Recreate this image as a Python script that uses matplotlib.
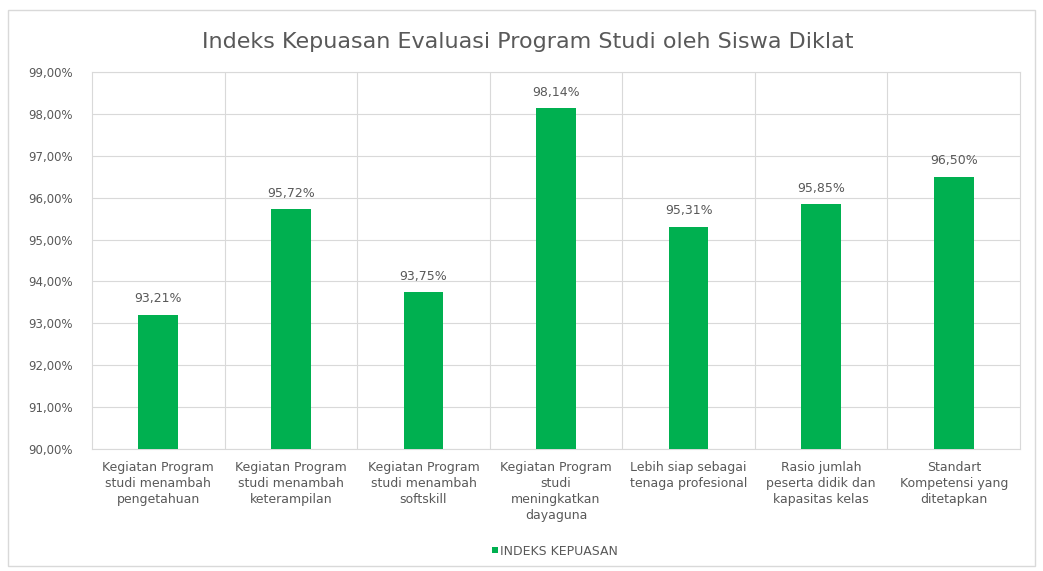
import matplotlib
matplotlib.use('Agg')
import matplotlib.pyplot as plt
from matplotlib.ticker import FuncFormatter, MultipleLocator
from matplotlib.patches import Rectangle

categories = [
    "Kegiatan Program\nstudi menambah\npengetahuan",
    "Kegiatan Program\nstudi menambah\nketerampilan",
    "Kegiatan Program\nstudi menambah\nsoftskill",
    "Kegiatan Program\nstudi\nmeningkatkan\ndayaguna",
    "Lebih siap sebagai\ntenaga profesional",
    "Rasio jumlah\npeserta didik dan\nkapasitas kelas",
    "Standart\nKompetensi yang\nditetapkan",
]
values = [93.21, 95.72, 93.75, 98.14, 95.31, 95.85, 96.50]
series_name = "INDEKS KEPUASAN"
title = "Indeks Kepuasan Evaluasi Program Studi oleh Siswa Diklat"

green = "#00B050"
grey_text = "#595959"
grid_col = "#D9D9D9"


def pct(v, pos=None):
    return f"{v:.2f}%".replace(".", ",")


fig = plt.figure(figsize=(10.43, 5.71), dpi=100)
ax = fig.add_axes([0.0882, 0.2137, 0.8898, 0.6603])

x = range(len(categories))
bars = ax.bar(x, values, width=0.3, color=green, zorder=3, label=series_name)
for xi, v in zip(x, values):
    ax.text(xi, v + 0.22, pct(v), ha='center', va='bottom', fontsize=9, color=grey_text)

ax.set_ylim(90, 99)
ax.set_xlim(-0.5, len(categories) - 0.5)
ax.yaxis.set_major_locator(MultipleLocator(1))
ax.yaxis.set_major_formatter(FuncFormatter(pct))
ax.set_xticks(list(x))
ax.set_xticklabels(categories, fontsize=9, color=grey_text, linespacing=1.3)
ax.tick_params(axis='y', labelsize=8.5, labelcolor=grey_text, length=0, pad=14)
ax.tick_params(axis='x', length=0, pad=9)

ax.grid(axis='y', color=grid_col, linewidth=0.8, zorder=0)
ax.set_xticks([i + 0.5 for i in range(len(categories) - 1)], minor=True)
ax.tick_params(axis='x', which='minor', length=0)
ax.grid(axis='x', which='minor', color=grid_col, linewidth=0.8, zorder=0)
for s in ['top', 'right', 'left', 'bottom']:
    ax.spines[s].set_color(grid_col)
    ax.spines[s].set_linewidth(0.8)

fig.text(0.506, 0.926, title, ha='center', va='center', fontsize=16, color=grey_text)

fig.legend(handles=[bars], labels=[series_name], loc='center',
           bbox_to_anchor=(0.532, 0.035), frameon=False,
           fontsize=9, labelcolor=grey_text, handlelength=0.45, handleheight=0.45,
           handletextpad=0.2)

fig.patches.append(Rectangle((0.008, 0.008), 0.984, 0.975, transform=fig.transFigure,
                             fill=False, edgecolor=grid_col, linewidth=1))

fig.savefig('out.png', dpi=100)
